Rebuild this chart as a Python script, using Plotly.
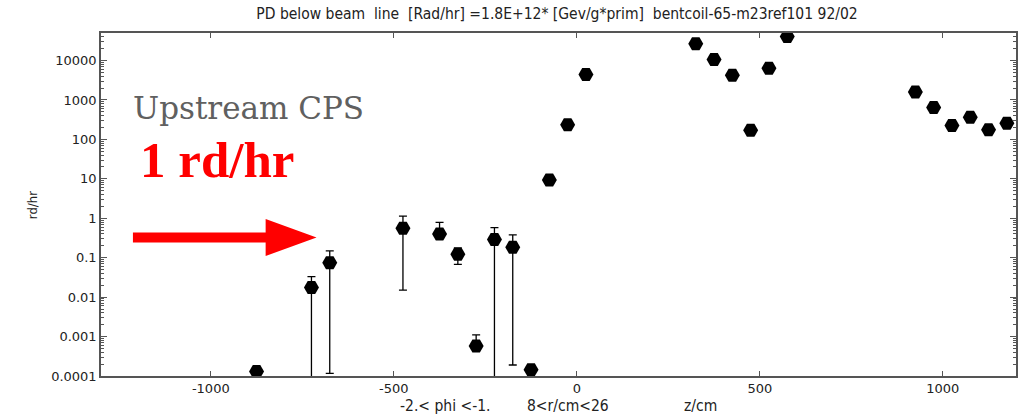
import plotly.graph_objects as go

# Dose per bin along z (rd/hr) for the PD below the beam line
z_cm = [-875, -725, -675, -475, -375, -325, -275, -225, -175, -125,
        -75, -25, 25, 325, 375, 425, 475, 525, 575,
        925, 975, 1025, 1075, 1125, 1175]
dose = [1.3e-4, 0.0176, 0.074, 0.56, 0.40, 0.123, 5.8e-4, 0.29, 0.185, 1.45e-4,
        9.3, 235, 4450, 26500, 10600, 4250, 172, 6380, 40600,
        1590, 645, 224, 367, 176, 257]
# upper / lower ends of the error bars (None = no bar)
dose_hi = [None, 0.033, 0.149, 1.14, 0.79, 0.177, 0.0011, 0.58, 0.38, None,
           None, None, None, None, None, None, None, None, None,
           None, None, None, None, None, None]
dose_lo = [None, 1e-5, 1.17e-4, 0.015, None, 0.068, None, 1e-5, 1.9e-4, None,
           None, None, None, None, None, None, None, None, None,
           None, None, None, None, None, None]

x_ticks = [-1000, -500, 0, 500, 1000]
x_tick_text = ["-1000", "-500", "0", "500", "1000"]
y_ticks = [1e-4, 1e-3, 1e-2, 0.1, 1, 10, 100, 1000, 10000]
y_tick_text = ["0.0001", "0.001", "0.01", "0.1", "1", "10", "100", "1000", "10000"]

err_plus = [(h - v) if h is not None else 0 for h, v in zip(dose_hi, dose)]
err_minus = [(v - l) if l is not None else 0 for l, v in zip(dose_lo, dose)]

W, H = 1019, 414
L, R, T, B = 101, 1, 33, 38
PW, PH = W - L - R, H - T - B


def px(xp):
    return (xp - L) / PW


def py(yp):
    return (H - B - yp) / PH


fig = go.Figure()
fig.add_trace(go.Scatter(
    x=z_cm, y=dose, mode="markers",
    marker=dict(symbol="hexagon2", size=15, color="black"),
    error_y=dict(type="data", symmetric=False, array=err_plus, arrayminus=err_minus,
                 color="black", thickness=1.3, width=4),
    cliponaxis=True, showlegend=False,
))

axis_col = "#555555"
fig.update_xaxes(
    range=[-1300, 1200], tickvals=x_ticks, ticktext=x_tick_text,
    ticks="inside", ticklen=5,
    tickcolor=axis_col, showline=True, linecolor=axis_col, linewidth=1.5,
    mirror="ticks", showgrid=False, zeroline=False,
    tickfont=dict(family="DejaVu Sans", size=13, color="#222222"),
)
fig.update_yaxes(
    type="log", range=[-4, 4.699], tickvals=y_ticks, ticktext=y_tick_text,
    ticks="inside", ticklen=6, tickcolor=axis_col, showline=True,
    linecolor=axis_col, linewidth=1.5, mirror="ticks", showgrid=False,
    zeroline=False, tickfont=dict(family="DejaVu Sans", size=13, color="#222222"),
    minor=dict(ticks="inside", ticklen=3, tickcolor=axis_col,
               dtick="D1", showgrid=False),
)

cond = "DejaVu Sans Condensed, Liberation Sans Narrow, DejaVu Sans"
fig.update_layout(
    width=W, height=H, margin=dict(l=L, r=R, t=T, b=B),
    paper_bgcolor="white", plot_bgcolor="white",
    title=dict(
        text="PD below beam  line  [Rad/hr] =1.8E+12* [Gev/g*prim]  bentcoil-65-m23ref101 92/02",
        x=557 / W, xanchor="center", xref="container",
        y=1 - 14 / H, yanchor="middle", yref="container",
        font=dict(family=cond, size=15.5, color="#222222"),
    ),
)

ann = [
    dict(text="-2.< phi <-1.", x=px(399), y=py(406), xanchor="left"),
    dict(text="8<r/cm<26", x=px(526), y=py(406), xanchor="left"),
    dict(text="z/cm", x=px(683), y=py(406), xanchor="left"),
]
for a in ann:
    fig.add_annotation(xref="paper", yref="paper", showarrow=False, yanchor="middle",
                       font=dict(family=cond, size=15.5, color="#222222"), **a)

fig.add_annotation(text="rd/hr", xref="paper", yref="paper", x=px(32), y=py(205),
                   textangle=-90, showarrow=False, xanchor="center", yanchor="middle",
                   font=dict(family=cond, size=13, color="#222222"))

fig.add_annotation(text="Upstream CPS", xref="paper", yref="paper",
                   x=px(131), y=py(108), xanchor="left", yanchor="middle",
                   showarrow=False,
                   font=dict(family="DejaVu Serif", size=31, color="#606060"))
fig.add_annotation(text="<b>1 rd/hr</b>", xref="paper", yref="paper",
                   x=px(138), y=py(160), xanchor="left", yanchor="middle",
                   showarrow=False,
                   font=dict(family="Liberation Serif", size=51, color="#ff0000"))

# red arrow pointing toward the 1 rd/hr level
arrow = (f"M {px(133)},{py(232.5)} L {px(266)},{py(232.5)} L {px(266)},{py(219)} "
         f"L {px(317)},{py(237.5)} L {px(266)},{py(256)} L {px(266)},{py(242.5)} "
         f"L {px(133)},{py(242.5)} Z")
fig.add_shape(type="path", path=arrow, xref="paper", yref="paper",
              fillcolor="#ff0000", line=dict(width=0))

fig.write_html("out.html")
